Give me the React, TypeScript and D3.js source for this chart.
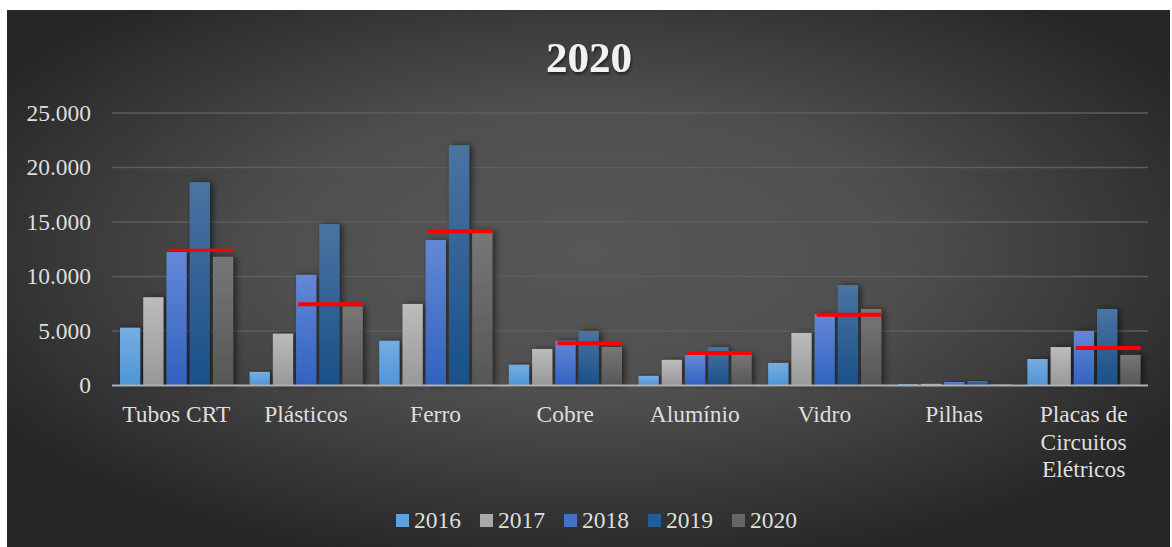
import React from "react";
import * as d3 from "d3";

const categories: string[][] = [
  ["Tubos CRT"],
  ["Plásticos"],
  ["Ferro"],
  ["Cobre"],
  ["Alumínio"],
  ["Vidro"],
  ["Pilhas"],
  ["Placas de", "Circuitos", "Elétricos"],
];
const years = ["2016", "2017", "2018", "2019", "2020"];
const values2016 = [5300, 1250, 4100, 1900, 880, 2070, 140, 2430];
const values2017 = [8100, 4750, 7480, 3350, 2350, 4820, 150, 3530];
const values2018 = [12250, 10150, 13350, 4100, 2800, 6560, 320, 5000];
const values2019 = [18650, 14800, 22050, 5000, 3530, 9220, 410, 7020];
const values2020 = [11800, 7250, 14170, 3530, 2900, 7020, 140, 2800];
const redMarks: (number | null)[] = [12400, 7450, 14150, 3870, 2980, 6500, null, 3440];
const yTicks = [0, 5000, 10000, 15000, 20000, 25000];
const tickLabels = ["0", "5.000", "10.000", "15.000", "20.000", "25.000"];

const series = [values2016, values2017, values2018, values2019, values2020];
const gradStops: [string, string][] = [
  ["#74aee2", "#4f95d6"],
  ["#bcbcbc", "#989898"],
  ["#6488d6", "#3162c0"],
  ["#4a74a2", "#195088"],
  ["#777777", "#565656"],
];
const legendColors = ["#5ea2de", "#a8a8a8", "#4472c4", "#1f5e99", "#666666"];

const FONT = "'Liberation Serif', 'Times New Roman', serif";

export default function App() {
  const W = 1172;
  const H = 547;
  const keys = categories.map((c) => c.join(" "));
  const x0 = d3.scaleBand<string>().domain(keys).range([111.5, 1148.5]).padding(0);
  const x1 = d3
    .scaleBand<string>()
    .domain(years)
    .range([8.5, x0.bandwidth() - 8])
    .paddingInner(0.13);
  const y = d3.scaleLinear().domain([0, 25000]).range([385.5, 113]);

  return (
    <svg
      width={W}
      height={H}
      style={{ position: "absolute", left: 0, top: 0, background: "#fff" }}
    >
      <defs>
        <radialGradient id="bg" cx="50%" cy="45%" r="60%">
          <stop offset="0" stopColor="#575757" />
          <stop offset="0.45" stopColor="#4f4f4f" />
          <stop offset="1" stopColor="#262626" />
        </radialGradient>
        {gradStops.map((g, i) => (
          <linearGradient key={i} id={`g${i}`} x1="0" y1="0" x2="0" y2="1">
            <stop offset="0" stopColor={g[0]} />
            <stop offset="1" stopColor={g[1]} />
          </linearGradient>
        ))}
        <filter id="shadow" x="-50%" y="-10%" width="200%" height="120%">
          <feDropShadow dx="3" dy="0" stdDeviation="3" floodColor="#000" floodOpacity="0.55" />
        </filter>
        <filter id="tshadow" x="-20%" y="-20%" width="140%" height="160%">
          <feDropShadow dx="1" dy="2" stdDeviation="1.5" floodColor="#000" floodOpacity="0.6" />
        </filter>
      </defs>
      <rect x={7} y={10} width={1163} height={H - 10} fill="url(#bg)" />

      <text
        x={589}
        y={72}
        textAnchor="middle"
        fontFamily={FONT}
        fontWeight="bold"
        fontSize={43}
        fill="#f2f2f2"
        filter="url(#tshadow)"
      >
        2020
      </text>

      {yTicks.map((t, i) => (
        <g key={t}>
          {t > 0 && (
            <line x1={112} x2={1148} y1={y(t)} y2={y(t)} stroke="#5e5e5e" strokeWidth={1.5} />
          )}
          <text
            x={91}
            y={y(t)}
            dy="0.34em"
            textAnchor="end"
            fontFamily={FONT}
            fontSize={23.5}
            fill="#dedede"
          >
            {tickLabels[i]}
          </text>
        </g>
      ))}

      {keys.map((k, ci) => (
        <g key={k} transform={`translate(${x0(k)},0)`}>
          {series.map((s, si) => (
            <rect
              key={si}
              x={x1(years[si])}
              y={y(s[ci])}
              width={x1.bandwidth()}
              height={y(0) - y(s[ci])}
              fill={`url(#g${si})`}
              filter="url(#shadow)"
            />
          ))}
        </g>
      ))}

      <line x1={112} x2={1148} y1={y(0)} y2={y(0)} stroke="#b0b0b0" strokeWidth={2} />

      {keys.map((k, ci) => {
        const v = redMarks[ci];
        if (v == null) return null;
        const xs = (x0(k) as number) + (x1("2018") as number) + 2;
        const xe = (x0(k) as number) + (x1("2020") as number) + x1.bandwidth();
        return (
          <line
            key={k}
            x1={xs}
            x2={xe}
            y1={y(v)}
            y2={y(v)}
            stroke="#ff0000"
            strokeWidth={ci === 0 ? 3 : 4}
          />
        );
      })}

      {categories.map((lines, ci) => (
        <text
          key={ci}
          x={(x0(keys[ci]) as number) + x0.bandwidth() / 2}
          y={422}
          textAnchor="middle"
          fontFamily={FONT}
          fontSize={23.5}
          fill="#dedede"
        >
          {lines.map((l, li) => (
            <tspan key={li} x={(x0(keys[ci]) as number) + x0.bandwidth() / 2} dy={li === 0 ? 0 : 27.5}>
              {l}
            </tspan>
          ))}
        </text>
      ))}

      {years.map((yr, i) => {
        const lx = 396 + i * 84;
        return (
          <g key={yr}>
            <rect x={lx} y={514} width={13} height={13} fill={legendColors[i]} />
            <text x={lx + 18} y={527.5} fontFamily={FONT} fontSize={23.5} fill="#dedede">
              {yr}
            </text>
          </g>
        );
      })}
    </svg>
  );
}
